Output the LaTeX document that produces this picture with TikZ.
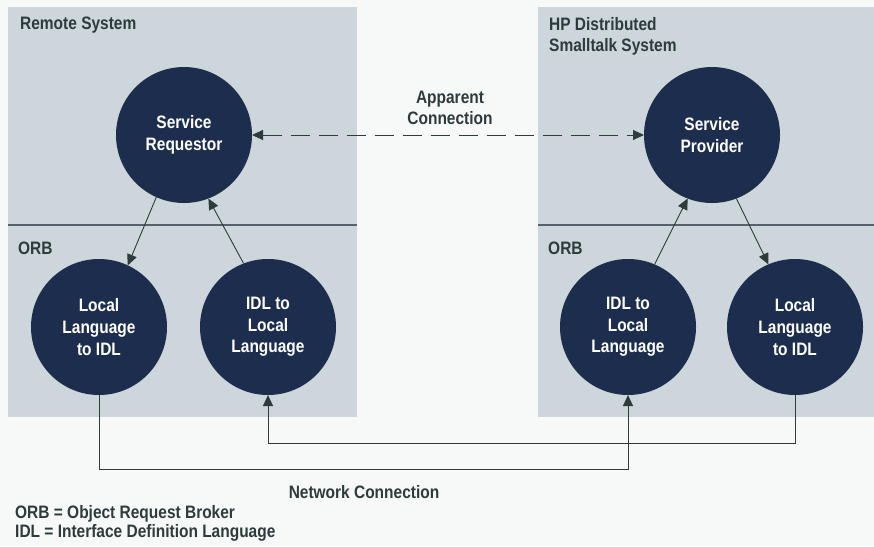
\documentclass[tikz,border=0pt]{standalone}
\usepackage{fontspec}
\setmainfont{Liberation Sans}[FakeStretch=0.86]
\usetikzlibrary{arrows.meta}
\definecolor{panel}{HTML}{CDD6DA}
\definecolor{navy}{HTML}{1C2D4E}
\definecolor{ink}{HTML}{2E3A3C}
\definecolor{rule}{HTML}{56616A}
\definecolor{bg}{HTML}{F7F9F8}
\tikzset{
  bubble/.style={circle, fill=navy, minimum size=136pt, inner sep=0pt, outer sep=0pt,
    text=white, align=center, font=\bfseries\fontsize{18}{21.7}\selectfont},
  lbl/.style={text=ink, font=\bfseries\fontsize{18}{21}\selectfont, inner sep=0pt},
  conn/.style={draw=ink, line width=0.9pt},
  arr/.style={conn, -{Triangle[length=11pt,width=10pt]}},
  darr/.style={conn, {Triangle[length=11pt,width=10pt]}-{Triangle[length=11pt,width=10pt]}, dash pattern=on 19pt off 9pt}
}
\begin{document}
\begin{tikzpicture}[x=1pt,y=-1pt]
\fill[bg] (0,0) rectangle (874,546);
\useasboundingbox (0,0) rectangle (874,546);
% panels
\fill[panel] (8,7) rectangle (357,417);
\fill[panel] (538,7) rectangle (874,417);
\draw[rule, line width=1.1pt] (8,225) -- (357,225);
\draw[rule, line width=1.1pt] (538,225) -- (874,225);
% panel labels
\node[lbl, anchor=west] (rs) at (20,25) {Remote System};
\node[lbl, anchor=north west, align=left] (hp) at (549,17) {HP Distributed\\Smalltalk System};
\node[lbl, anchor=west] (orbl) at (18,248) {ORB};
\node[lbl, anchor=west] (orbr) at (548,248) {ORB};
% circles
\node[bubble] (sr) at (184,135) {Service\\Requestor};
\node[bubble] (sp) at (712,135) {Service\\Provider};
\node[bubble] (l1) at (99,327) {Local\\Language\\to IDL};
\node[bubble] (l2) at (268,327) {IDL to\\Local\\Language};
\node[bubble] (r1) at (628,327) {IDL to\\Local\\Language};
\node[bubble] (r2) at (795,327) {Local\\Language\\to IDL};
% apparent connection
\draw[darr] (sr.east) -- (sp.west);
\node[lbl, align=center] (app) at (450,108) {Apparent\\Connection};
% internal arrows
\draw[arr] (sr.246.8) -- (l1.65.6);
\draw[arr] (l2.111.8) -- (sr.291);
\draw[arr] (r1.67.1) -- (sp.249);
\draw[arr] (sp.291.8) -- (r2.113.3);
% network connection
\coordinate (ylow) at (0,469);
\coordinate (yhigh) at (0,443);
\draw[arr] (l1.south) -- (l1.south |- ylow) -- (r1.south |- ylow) -- (r1.south);
\draw[arr] (r2.south) -- (r2.south |- yhigh) -- (l2.south |- yhigh) -- (l2.south);
\node[lbl] (net) at (364,492) {Network Connection};
% legend
\node[lbl, anchor=west] (leg1) at (15,514) {ORB = Object Request Broker};
\node[lbl, anchor=west] (leg2) at (15,533) {IDL = Interface Definition Language};
\end{tikzpicture}
\end{document}
